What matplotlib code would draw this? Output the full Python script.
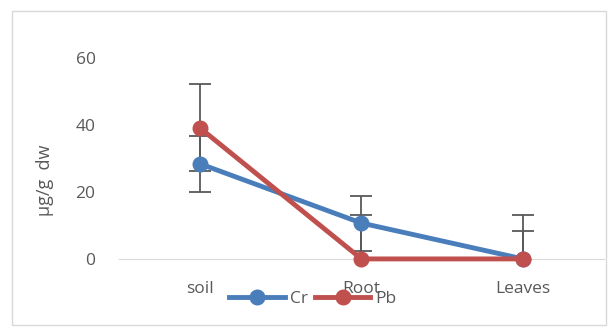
import matplotlib.pyplot as plt
from matplotlib.patches import Rectangle

# data
categories = ['soil', 'Root', 'Leaves']
cr_values = [28.4, 10.7, 0.0]
cr_errors = [8.3, 8.2, 8.2]
pb_values = [39.1, 0.0, 0.0]
pb_errors = [13.0, 13.1, 13.1]
y_ticks = [0, 20, 40, 60]

txt = '#595959'
plt.rcParams['font.family'] = ['Open Sans', 'DejaVu Sans']

fig = plt.figure(figsize=(6.08, 3.29), dpi=100)
fig.patches.append(Rectangle((12 / 608, 4 / 329), 594 / 608, 314 / 329, transform=fig.transFigure,
                             fill=False, edgecolor='#d9d9d9', linewidth=1))
ax = fig.add_axes([0.196, 0.213, 0.797, 0.611])

x = list(range(len(categories)))
ax.errorbar(x, cr_values, yerr=cr_errors, fmt='none', ecolor='#595959', elinewidth=1.3, capsize=8, capthick=1.3, zorder=2)
ax.errorbar(x, pb_values, yerr=pb_errors, fmt='none', ecolor='#595959', elinewidth=1.3, capsize=8, capthick=1.3, zorder=2)
ax.plot(x, cr_values, '-o', color='#4a7ebb', linewidth=3.5, markersize=10.5, label='Cr', clip_on=False, zorder=3)
ax.plot(x, pb_values, '-o', color='#c0504d', linewidth=3.5, markersize=10.5, label='Pb', clip_on=False, zorder=4)

ax.set_xlim(-0.5, 2.5)
ax.set_ylim(0, 60)
ax.set_yticks(y_ticks)
ax.set_xticks(x)
ax.set_xticklabels(categories)
for s in ['top', 'right', 'left']:
    ax.spines[s].set_visible(False)
ax.spines['bottom'].set_color('#d9d9d9')
ax.tick_params(axis='both', length=0, labelsize=12.5, labelcolor=txt)
ax.tick_params(axis='x', pad=16)
ax.tick_params(axis='y', pad=17)

fig.text(45 / 608, 1 - 180 / 329, 'µg/g  dw', rotation=90, ha='center', va='center', fontsize=13, color=txt)

fig.legend(loc='center', bbox_to_anchor=(313 / 608, 1 - 299 / 329), ncol=2, frameon=False,
           handlelength=3.2, columnspacing=0.4, handletextpad=0.3, fontsize=12.5, labelcolor=txt)

fig.savefig('out.png', dpi=100)
